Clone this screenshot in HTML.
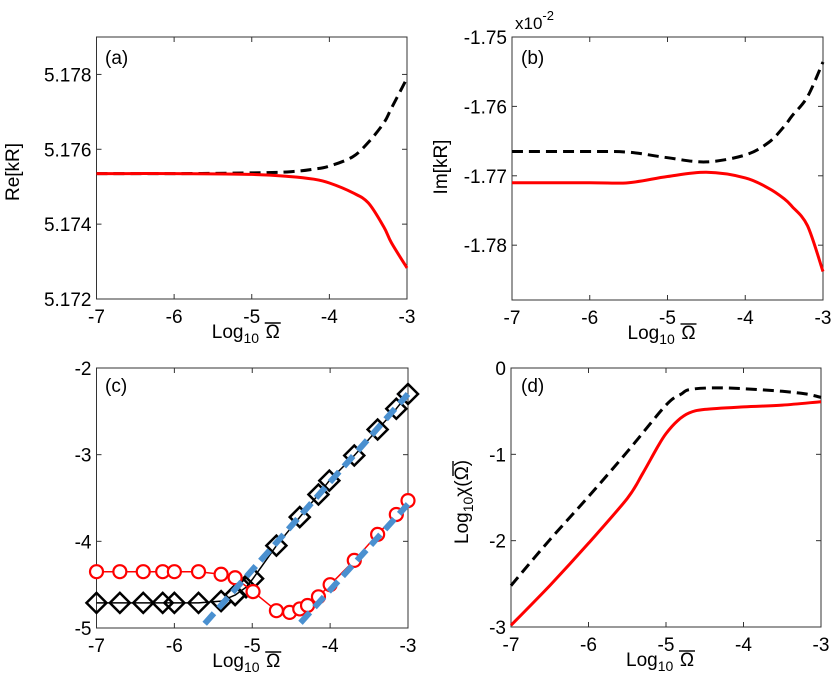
<!DOCTYPE html>
<html><head><meta charset="utf-8"><style>
body{margin:0;background:#fff}
svg text{font-family:"Liberation Sans",Arial,sans-serif;fill:#000}
</style></head><body>
<svg id="fig" width="831" height="678" xmlns="http://www.w3.org/2000/svg"></svg>
<script>
const xTicks=[-7,-6,-5,-4,-3];
// (a)
const aX=[-7,-6,-5,-4.5,-4.2,-4,-3.7,-3.5,-3.3,-3.2,-3];
const aBlack=[5.17535,5.17535,5.17537,5.1754,5.17547,5.17555,5.1758,5.17618,5.1767,5.1771,5.1779];
const aRed=[5.17535,5.17535,5.17533,5.17527,5.1752,5.1751,5.17484,5.17457,5.17393,5.1735,5.17283];
const aYTicks=[5.172,5.174,5.176,5.178];
// (b)
const bX=[-7,-6,-5.5,-5,-4.5,-4,-3.7,-3.5,-3.4,-3.2,-3];
const bBlack=[-1.7665,-1.7665,-1.7666,-1.7674,-1.7680,-1.7670,-1.7652,-1.7629,-1.7614,-1.7586,-1.7536];
const bRed=[-1.7710,-1.7710,-1.7710,-1.7701,-1.7695,-1.7703,-1.7718,-1.7733,-1.7744,-1.7772,-1.7838];
const bYTicks=[-1.78,-1.77,-1.76,-1.75];
// (c)
const cBX=[-7,-6.7,-6.4,-6.15,-6.0,-5.69,-5.4,-5.22,-5.08,-4.99,-4.69,-4.39,-4.15,-4.01,-3.69,-3.39,-3.15,-3.0];
const cBY=[-4.71,-4.71,-4.71,-4.71,-4.71,-4.71,-4.69,-4.62,-4.53,-4.43,-4.05,-3.72,-3.46,-3.30,-3.01,-2.71,-2.47,-2.30];
const cRX=[-7,-6.7,-6.4,-6.15,-6.0,-5.69,-5.4,-5.22,-4.99,-4.69,-4.52,-4.39,-4.29,-4.15,-4.0,-3.69,-3.39,-3.15,-3.0];
const cRY=[-4.35,-4.35,-4.35,-4.35,-4.35,-4.35,-4.38,-4.42,-4.58,-4.80,-4.82,-4.78,-4.74,-4.64,-4.50,-4.22,-3.92,-3.69,-3.53];
const cFit1X=[-5.61,-3.0];
const cFit1Y=[-4.95,-2.30];
const cFit2X=[-4.38,-3.0];
const cFit2Y=[-4.94,-3.57];
const cYTicks=[-5,-4,-3,-2];
// (d)
const dBX=[-7,-6.5,-6,-5.5,-5,-4.8,-4.7,-4.4,-4,-3.5,-3.2,-3];
const dBY=[-2.52,-1.99,-1.49,-0.97,-0.43,-0.30,-0.25,-0.23,-0.24,-0.27,-0.30,-0.34];
const dRX=[-7,-6.5,-6,-5.5,-5.3,-5.1,-5,-4.85,-4.7,-4.5,-4,-3.5,-3];
const dRY=[-2.98,-2.52,-2.03,-1.51,-1.22,-0.90,-0.76,-0.61,-0.52,-0.48,-0.45,-0.43,-0.39];
const dYTicks=[-3,-2,-1,0];

const NS="http://www.w3.org/2000/svg";
const svg=document.getElementById('fig');
const FS=19;
function el(t,a,p){const e=document.createElementNS(NS,t);for(const k in a)e.setAttribute(k,a[k]);(p||svg).appendChild(e);return e;}
function panel(name,L,R,T,B,y0,y1,yTicks,fmt){
  const g=el('g',{});
  
  
  const sx=v=>L+(v+7)/4*(R-L), sy=v=>B-(v-y0)/(y1-y0)*(B-T);
  const box=el('rect',{x:L,y:T,width:R-L,height:B-T,fill:'none',stroke:'#333','stroke-width':1},g);
  
  
  xTicks.forEach(v=>{const x=sx(v);
    el('line',{x1:x,x2:x,y1:B,y2:B-5,stroke:'#333'},g);el('line',{x1:x,x2:x,y1:T,y2:T+5,stroke:'#333'},g);
    const t=el('text',{x:x,y:B+24,'font-size':FS,'text-anchor':'middle'},g);t.textContent=v;
    
    });
  yTicks.forEach(v=>{const y=sy(v);
    el('line',{x1:L,x2:L+5,y1:y,y2:y,stroke:'#333'},g);el('line',{x1:R,x2:R-5,y1:y,y2:y,stroke:'#333'},g);
    const t=el('text',{x:L-5,y:y+7,'font-size':FS,'text-anchor':'end'},g);t.textContent=fmt(v);
    
    });
  const c=(L+R)/2;
  const xl=el('text',{x:c-40,y:B+39,'font-size':FS},g);
  
  
  xl.innerHTML='Log<tspan font-size="14" dy="5">10</tspan>';
  const om=el('text',{x:c+21,y:B+39,'font-size':FS,'text-anchor':'middle'},g);
  om.textContent='Ω';
  el('line',{x1:c+13,x2:c+29,y1:B+24,y2:B+24,stroke:'#000','stroke-width':1.4},g);
  return {g,sx,sy};
}
function smooth(pts){
  let d='M'+pts[0][0].toFixed(1)+' '+pts[0][1].toFixed(1);
  for(let i=0;i<pts.length-1;i++){
    const p0=pts[Math.max(i-1,0)],p1=pts[i],p2=pts[i+1],p3=pts[Math.min(i+2,pts.length-1)];
    const c1=[p1[0]+(p2[0]-p0[0])/6,p1[1]+(p2[1]-p0[1])/6];
    const c2=[p2[0]-(p3[0]-p1[0])/6,p2[1]-(p3[1]-p1[1])/6];
    d+='C'+c1.map(v=>v.toFixed(1)).join(' ')+' '+c2.map(v=>v.toFixed(1)).join(' ')+' '+p2.map(v=>v.toFixed(1)).join(' ');
  }
  return d;
}
function line(P,xs,ys,stroke,dash,w,name,sm){
  const pts=xs.map((x,i)=>[P.sx(x),P.sy(ys[i])]);
  const d=sm?smooth(pts):pts.map((p,i)=>(i?'L':'M')+p[0].toFixed(1)+' '+p[1].toFixed(1)).join('');
  const p=el('path',{d:d,fill:'none',stroke:stroke,'stroke-width':w,'stroke-dasharray':dash||'none','stroke-linejoin':'round'},P.g);
  
  
}
function label(P,x,y,s){const t=el('text',{x:x,y:y,'font-size':FS},P.g);t.textContent=s;
  
  }

// (a)
const A=panel('panel-a',96.5,407,37,299,5.172,5.179,aYTicks,v=>v.toFixed(3));
line(A,aX,aBlack,'#000','11,6',3,'series-a-black-dashed',true);
line(A,aX,aRed,'#f00',null,3,'series-a-red',true);
label(A,105,64,'(a)');
let t=el('text',{x:0,y:0,'font-size':FS,'text-anchor':'middle',transform:'translate(19,172) rotate(-90)'});t.textContent='Re[kR]';



// (b)
const Bp=panel('panel-b',512,823,37,300,-1.7879,-1.75,bYTicks,v=>v.toFixed(2));
line(Bp,bX,bBlack,'#000','11,6',3,'series-b-black-dashed',true);
line(Bp,bX,bRed,'#f00',null,3,'series-b-red',true);
label(Bp,521,64,'(b)');
t=el('text',{x:515,y:29,'font-size':17});t.innerHTML='x10<tspan font-size="13" dy="-9">-2</tspan>';


t=el('text',{x:0,y:0,'font-size':FS,'text-anchor':'middle',transform:'translate(447,167) rotate(-90)'});t.textContent='Im[kR]';



// (c)
const C=panel('panel-c',96.5,408,368,628,-5,-2,cYTicks,v=>v);
line(C,cBX,cBY,'#000',null,1.5,'series-c-black-line');
line(C,cRX,cRY,'#f00',null,1.5,'series-c-red-line');
cBX.forEach((x,i)=>{const cx=C.sx(x),cy=C.sy(cBY[i]);
  const m=el('path',{d:`M${cx-10} ${cy}L${cx} ${cy-10}L${cx+10} ${cy}L${cx} ${cy+10}Z`,fill:'none',stroke:'#000','stroke-width':2.5},C.g);
  
  });
cRX.forEach((x,i)=>{const m=el('circle',{cx:C.sx(x),cy:C.sy(cRY[i]),r:6.5,fill:'#fff',stroke:'#f00','stroke-width':2.2},C.g);
  
  });
line(C,cFit1X,cFit1Y,'#4a90d0','14,7',6,'fit-line-1');
line(C,cFit2X,cFit2Y,'#4a90d0','14,7',6,'fit-line-2');
label(C,105,392,'(c)');

// (d)
const D=panel('panel-d',511,821,368,627,-3,0,dYTicks,v=>v);
line(D,dBX,dBY,'#000','11,6',3,'series-d-black-dashed',true);
line(D,dRX,dRY,'#f00',null,3,'series-d-red',true);
label(D,521,392,'(d)');
const yl=el('g',{transform:'translate(468,498) rotate(-90)'});


t=el('text',{x:-46,y:0,'font-size':FS},yl);
t.innerHTML='Log<tspan font-size="14" dy="5">10</tspan><tspan dy="-5">χ(Ω)</tspan>';
el('line',{x1:22,x2:37,y1:-15,y2:-15,stroke:'#000','stroke-width':1.4},yl);
</script>
</body></html>
